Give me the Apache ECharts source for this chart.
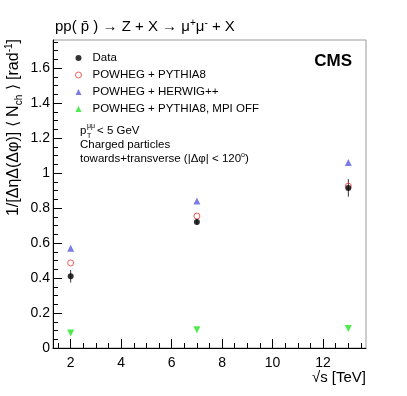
<!DOCTYPE html>
<html>
<head>
<meta charset="utf-8">
<script src="https://cdn.jsdelivr.net/npm/echarts@6/dist/echarts.min.js"></script>
<style>
html, body { margin: 0; padding: 0; background: #fff; }
#main { width: 407px; height: 396px; }
</style>
</head>
<body>
<div id="main"></div>
<script>
// values
var energies = [2, 7, 13]
var dataVals = [0.41, 0.72, 0.915]
var dataErr = [0.036, 0.015, 0.05]
var pythia8 = [0.486, 0.754, 0.925]
var herwig = [0.57, 0.84, 1.06]
var mpiOff = [0.086, 0.104, 0.112]

var names = ['Data', 'POWHEG + PYTHIA8', 'POWHEG + HERWIG++', 'POWHEG + PYTHIA8, MPI OFF']

var xTicks = [2, 4, 6, 8, 10, 12]
var xMinor = [1.5, 2.5, 3, 3.5, 4.5, 5, 5.5, 6.5, 7, 7.5, 8.5, 9, 9.5, 10.5, 11, 11.5, 12.5, 13, 13.5]
var yTicks = [0, 0.2, 0.4, 0.6, 0.8, 1, 1.2, 1.4, 1.6]
var yMinor = []
for (var i = 1; i <= 35; i++) {
    if (i % 4 != 0) yMinor.push(+(i * 0.05).toFixed(2))
}

var font = 'Liberation Sans, Arial, sans-serif'
var red = '#f03434'

function pts(vals) {
    return energies.map(function (e, k) { return [e, vals[k]] })
}
var errData = energies.map(function (e, k) {
    return [e, dataVals[k] - dataErr[k], dataVals[k] + dataErr[k]]
})

var chartDom = document.getElementById('main')
var myChart = echarts.init(chartDom)

var option = {
    animation: false,
    grid: {
        left: 53, right: 41, top: 40, bottom: 48,
        show: true, borderColor: '#9a9a9a', borderWidth: 1, backgroundColor: 'transparent'
    },
    xAxis: [
        {
            type: 'value', min: 1.3, max: 13.7, position: 'bottom',
            axisLine: { lineStyle: { color: '#000', width: 1 } },
            axisTick: { inside: true, length: 9, customValues: xTicks, lineStyle: { color: '#000' } },
            axisLabel: { customValues: xTicks, fontSize: 14, color: '#000', fontFamily: font, margin: 8 },
            splitLine: { show: false }
        },
        {
            type: 'value', min: 1.3, max: 13.7, position: 'bottom',
            axisLine: { show: false },
            axisTick: { inside: true, length: 5, customValues: xMinor, lineStyle: { color: '#000' } },
            axisLabel: { show: false },
            splitLine: { show: false }
        }
    ],
    yAxis: [
        {
            type: 'value', min: 0, max: 1.76, position: 'left',
            axisLine: { show: true, lineStyle: { color: '#000', width: 1 } },
            axisTick: { show: true, inside: true, length: 9, customValues: yTicks, lineStyle: { color: '#000' } },
            axisLabel: { customValues: yTicks, fontSize: 14, color: '#000', fontFamily: font, margin: 3 },
            splitLine: { show: false }
        },
        {
            type: 'value', min: 0, max: 1.76, position: 'left',
            axisLine: { show: false },
            axisTick: { show: true, inside: true, length: 5, customValues: yMinor, lineStyle: { color: '#000' } },
            axisLabel: { show: false },
            splitLine: { show: false }
        }
    ],
    legend: {
        data: [
            { name: names[0], itemStyle: { color: '#000' } },
            { name: names[1], itemStyle: { color: 'rgba(255,255,255,0)', borderColor: red, borderWidth: 1 } },
            { name: names[2] },
            { name: names[3] }
        ],
        orient: 'vertical',
        left: 70, top: 47,
        itemWidth: 6, itemHeight: 6,
        itemGap: 5,
        textStyle: { fontSize: 11.5, fontFamily: font, color: '#000', padding: [0, 0, 0, 6] }
    },
    series: [
        {
            type: 'custom', name: 'err', data: errData, z: 2,
            encode: { x: 0, y: [1, 2] },
            renderItem: function (params, api) {
                var x = api.value(0)
                var lo = api.coord([x, api.value(1)])
                var hi = api.coord([x, api.value(2)])
                return {
                    type: 'line',
                    shape: { x1: lo[0], y1: lo[1], x2: hi[0], y2: hi[1] },
                    style: { stroke: '#333', lineWidth: 1 }
                }
            }
        },
        {
            type: 'scatter', name: names[1], data: pts(pythia8), z: 3,
            symbol: 'circle', symbolSize: 6,
            itemStyle: { color: 'rgba(255,255,255,0)', borderColor: red, borderWidth: 1 }
        },
        {
            type: 'scatter', name: names[2], data: pts(herwig), z: 3,
            symbol: 'triangle', symbolSize: 7,
            itemStyle: { color: '#5b5be0' }
        },
        {
            type: 'scatter', name: names[3], data: pts(mpiOff), z: 3,
            symbol: 'triangle', symbolRotate: 180, symbolSize: 7,
            itemStyle: { color: '#22e622' }
        },
        {
            type: 'scatter', name: names[0], data: pts(dataVals), z: 4,
            symbol: 'circle', symbolSize: 6,
            itemStyle: { color: '#000' }
        }
    ],
    graphic: [
        {
            type: 'text', x: 55, y: 27,
            style: {
                text: '{m|pp( p\u0304 ) \u2192 Z + X \u2192 \u03bc}{s|+}{m|\u03bc}{s|-}{m| + X}',
                verticalAlign: 'middle', fill: '#000',
                rich: {
                    m: { fontSize: 15, fontFamily: font, lineHeight: 18 },
                    s: { fontSize: 10, fontFamily: font, lineHeight: 9, verticalAlign: 'top' }
                }
            }
        },
        {
            type: 'text', x: 352, y: 61,
            style: { text: 'CMS', fontSize: 17, fontWeight: 'bold', fontFamily: font, fill: '#000', align: 'right', verticalAlign: 'middle' }
        },
        {
            type: 'text', x: 14, y: 39, rotation: Math.PI / 2,
            style: {
                text: '{m|1/[\u0394\u03b7\u0394(\u0394\u03c6)] \u27e8 N}{b|ch}{m| \u27e9 [rad}{s|-1}{m|]}',
                align: 'right', verticalAlign: 'middle', fill: '#000',
                rich: {
                    m: { fontSize: 16, fontFamily: font, lineHeight: 20 },
                    s: { fontSize: 10, fontFamily: font, lineHeight: 10, verticalAlign: 'top' },
                    b: { fontSize: 10, fontFamily: font, lineHeight: 10, verticalAlign: 'bottom' }
                }
            }
        },
        {
            type: 'text', x: 366, y: 378,
            style: { text: '\u221as [TeV]', fontSize: 15, fontFamily: font, fill: '#000', align: 'right', verticalAlign: 'middle' }
        },
        {
            type: 'text', x: 80, y: 131,
            style: { text: 'p', fontSize: 11.5, fontFamily: font, fill: '#000', verticalAlign: 'middle' }
        },
        {
            type: 'text', x: 87, y: 126,
            style: { text: '\u03bc\u03bc', fontSize: 7, fontFamily: font, fill: '#000', verticalAlign: 'middle' }
        },
        {
            type: 'text', x: 87, y: 136,
            style: { text: 'T', fontSize: 7, fontFamily: font, fill: '#000', verticalAlign: 'middle' }
        },
        {
            type: 'text', x: 97, y: 131,
            style: { text: '< 5 GeV', fontSize: 11.5, fontFamily: font, fill: '#000', verticalAlign: 'middle' }
        },
        {
            type: 'text', x: 80, y: 145,
            style: { text: 'Charged particles', fontSize: 11.5, fontFamily: font, fill: '#000', verticalAlign: 'middle' }
        },
        {
            type: 'text', x: 80, y: 159,
            style: {
                text: '{m|towards+transverse (|\u0394\u03c6| < 120}{s|o}{m|)}',
                verticalAlign: 'middle', fill: '#000',
                rich: {
                    m: { fontSize: 11.5, fontFamily: font, lineHeight: 14 },
                    s: { fontSize: 7, fontFamily: font, lineHeight: 7, verticalAlign: 'top' }
                }
            }
        }
    ]
}

myChart.setOption(option)
</script>
</body>
</html>
